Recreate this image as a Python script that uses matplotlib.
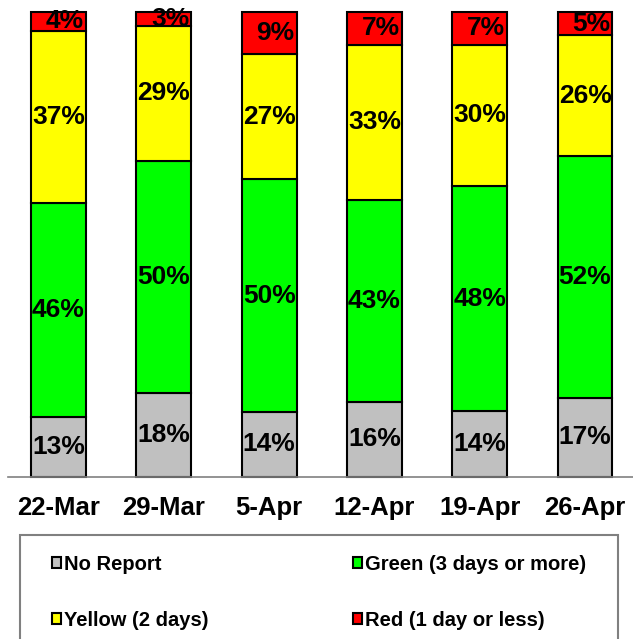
import matplotlib
matplotlib.use("Agg")
import matplotlib.pyplot as plt
from matplotlib.patches import Rectangle
import numpy as np

categories = ["22-Mar", "29-Mar", "5-Apr", "12-Apr", "19-Apr", "26-Apr"]
no_report = [13, 18, 14, 16, 14, 17]
green = [46, 50, 50, 43, 48, 52]
yellow = [37, 29, 27, 33, 30, 26]
red = [4, 3, 9, 7, 7, 5]

series = [
    ("No Report", no_report, "#C0C0C0"),
    ("Green (3 days or more)", green, "#00FF00"),
    ("Yellow (2 days)", yellow, "#FFFF00"),
    ("Red (1 day or less)", red, "#FF0000"),
]

plt.rcParams["font.family"] = ["Liberation Sans", "DejaVu Sans"]
plt.rcParams["font.weight"] = "bold"

W, H = 633, 639
fig = plt.figure(figsize=(W / 100, H / 100), dpi=100)
ax = fig.add_axes([8 / W, 1 - 477 / H, 625 / W, (477 - 12) / H])

x = np.arange(len(categories))
totals = np.array(no_report) + np.array(green) + np.array(yellow) + np.array(red)
bottom = np.zeros(len(categories))
for k, (name, vals, col) in enumerate(series):
    frac = np.array(vals) / totals
    ax.bar(x, frac, 0.52, bottom=bottom, color=col, edgecolor="black",
           linewidth=1.5, label=name, clip_on=False)
    dx = 4.5 if k == 3 else 0
    for xi, b, f, v in zip(x, bottom, frac, vals):
        ax.annotate(f"{v}%", (xi, b + f / 2), xytext=(dx, 0),
                    textcoords="offset points", ha="center", va="center",
                    fontsize=19, fontweight="bold", color="black")
    bottom += frac

ax.set_xlim(-0.48, 5.455)
ax.set_ylim(0, 1)
for s in ["top", "right", "left"]:
    ax.spines[s].set_visible(False)
ax.spines["bottom"].set_color("#808080")
ax.spines["bottom"].set_linewidth(1.2)
ax.set_yticks([])
ax.set_xticks(x)
ax.set_xticklabels(categories, fontsize=18.5, fontweight="bold")
ax.tick_params(axis="x", length=0, pad=14)

# legend frame
frame = Rectangle((20 / W, -5 / H), 598 / W, (639 - 535 + 5) / H,
                  transform=fig.transFigure, facecolor="none",
                  edgecolor="#808080", linewidth=1.5)
fig.patches.append(frame)

order = [0, 2, 1, 3]
handles = [Rectangle((0, 0), 1, 1, facecolor=series[i][2], edgecolor="black",
                     linewidth=1.5) for i in order]
labels = [series[i][0] for i in order]
leg = fig.legend(handles, labels, loc="upper left",
                 bbox_to_anchor=(52 / W, 1 - 555 / H),
                 ncol=2, frameon=False, fontsize=14.5, handlelength=0.45,
                 handleheight=0.45, handletextpad=0.15, borderpad=0,
                 labelspacing=1.82, borderaxespad=0, columnspacing=7.15)
for t in leg.get_texts():
    t.set_fontweight("bold")

fig.savefig("out.png", dpi=100)
